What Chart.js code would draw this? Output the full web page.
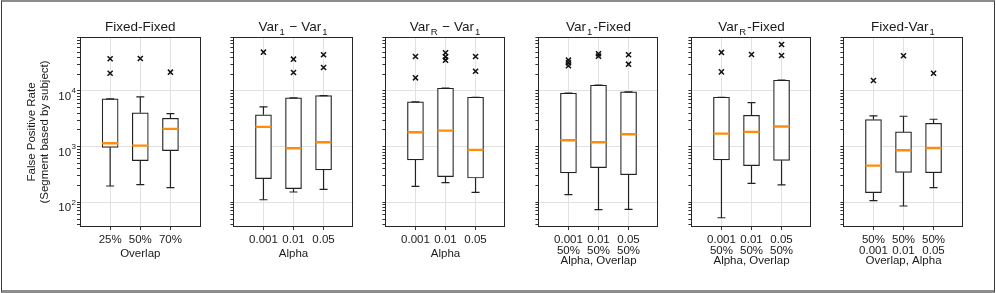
<!DOCTYPE html>
<html>
<head>
<meta charset="utf-8">
<script src="https://cdn.jsdelivr.net/npm/chart.js@4.4.1/dist/chart.umd.min.js"></script>
<style>
  body { margin: 0; background: #fff; }
  #frame {
    position: absolute; left: 1px; top: 0; width: 992px; height: 288px;
    border-top: 2px solid #8c8c8c; border-bottom: 3px solid #8c8c8c;
    border-left: 1px solid #3a3a3a; border-right: 1px solid #3a3a3a;
  }
  canvas { position: absolute; top: 0; }
</style>
</head>
<body>
<div id="frame"></div>
<script>
// panel titles (_{..} = subscript)
const panelTitles = ['Fixed-Fixed', 'Var_{1} \u2212 Var_{1}', 'Var_{R} \u2212 Var_{1}', 'Var_{1}-Fixed', 'Var_{R}-Fixed', 'Fixed-Var_{1}'];
const xTitles = ['Overlap', 'Alpha', 'Alpha', 'Alpha, Overlap', 'Alpha, Overlap', 'Overlap, Alpha'];
const xLabels = [
  ['25%', '50%', '70%'],
  ['0.001', '0.01', '0.05'],
  ['0.001', '0.01', '0.05'],
  [['0.001', '50%'], ['0.01', '50%'], ['0.05', '50%']],
  [['0.001', '50%'], ['0.01', '50%'], ['0.05', '50%']],
  [['50%', '0.001'], ['50%', '0.01'], ['50%', '0.05']]
];
const yTitle = ['False Positive Rate', '(Segment based by subject)'];

// box stats, one row per panel, one value per category
const whiskerLow = [
  [196, 207, 183],
  [111, 153, 171],
  [193, 225, 151],
  [137, 73.6, 74.5],
  [52.8, 219, 205],
  [107, 85.8, 183]
];
const boxLow = [
  [971, 560, 848],
  [266, 176, 381],
  [576, 289, 273],
  [336, 419, 313],
  [576, 455, 567],
  [149, 345, 340]
];
const median = [
  [1146, 1042, 2080],
  [2262, 932, 1195],
  [1807, 1940, 873],
  [1298, 1195, 1664],
  [1713, 1838, 2290],
  [455, 858, 947]
];
const boxHigh = [
  [7210, 4037, 3228],
  [3715, 7520, 8265],
  [6370, 11190, 7700],
  [9100, 12670, 9640],
  [7700, 3656, 15570],
  [3060, 1838, 2625]
];
const whiskerHigh = [
  [7210, 7830, 3925],
  [5176, 7520, 8265],
  [6370, 11190, 7700],
  [9100, 12670, 9640],
  [7700, 6185, 15570],
  [3565, 3508, 3097]
];
const outliers = [
  [[37800, 20800], [38300], [21700]],
  [[49700], [37200, 21400], [44600, 26360]],
  [[41580, 17200], [48400, 41000, 35700], [41580, 22600]],
  [[35700, 32000, 28300], [46500, 42100], [44600, 30200]],
  [[49100, 22000], [45100], [68300, 43300]],
  [[15400], [42800], [20800]]
];

const yMin = 36, yMax = 93000;
const yTicks = [];
for (let e = 1; e <= 4; e++) for (let m = 1; m <= 9; m++) {
  const v = m * Math.pow(10, e);
  if (v >= yMin && v <= yMax) yTicks.push(v);
}

const panelLeft = [80, 233, 385, 538, 691, 843];
const plotW = 127, plotTop = 37, plotBottom = 227, H = 293;
const ink = '#1a1a1a', edge = '#222', orange = '#ff8c0a', gridCol = '#e2e2e2';
const fam = '"Liberation Sans", Arial, sans-serif';

Chart.defaults.font.family = fam;
Chart.defaults.color = ink;

const isDecade = v => Math.abs(Math.log10(v) - Math.round(Math.log10(v))) < 1e-9;

const panelDecor = {
  id: 'panelDecor',
  afterDraw(chart, args, opts) {
    const { ctx, chartArea: a } = chart;
    ctx.save();
    ctx.strokeStyle = '#262626';
    ctx.lineWidth = 1;
    ctx.strokeRect(Math.round(a.left) + 0.5, Math.round(a.top) + 0.5,
      Math.round(a.right - a.left) - 1, Math.round(a.bottom - a.top) - 1);

    // title with subscripts
    const parts = opts.title.split(/(_\{[^}]*\})/).filter(Boolean)
      .map(p => p.startsWith('_{') ? { t: p.slice(2, -1), sub: true } : { t: p, sub: false });
    const mainFont = '13.5px ' + fam, subFont = '9.5px ' + fam;
    let total = 0;
    parts.forEach(p => {
      ctx.font = p.sub ? subFont : mainFont;
      p.w = ctx.measureText(p.t).width + (p.sub ? 2 : 0);
      total += p.w;
    });
    let x = (a.left + a.right) / 2 - total / 2;
    const base = 31;
    ctx.fillStyle = ink;
    ctx.textBaseline = 'alphabetic';
    ctx.textAlign = 'left';
    parts.forEach(p => {
      ctx.font = p.sub ? subFont : mainFont;
      ctx.fillText(p.t, p.sub ? x + 1 : x, p.sub ? base + 3.5 : base);
      x += p.w;
    });

    // power-of-ten tick labels on the first panel
    if (opts.yLabels) {
      const ys = chart.scales.y;
      yTicks.filter(isDecade).forEach(v => {
        const py = ys.getPixelForValue(v);
        const ex = String(Math.round(Math.log10(v)));
        ctx.font = '8px ' + fam;
        const ew = ctx.measureText(ex).width;
        ctx.textAlign = 'right';
        ctx.fillText(ex, 76, py + 2.5);
        ctx.font = '11.5px ' + fam;
        ctx.fillText('10', 76 - ew - 0.5, py + 9);
      });
    }
    ctx.restore();
  }
};

function buildDatasets(p) {
  const xs = [1, 2, 3];
  const whisk = [], caps = [], outs = [];
  xs.forEach((x, k) => {
    whisk.push({ x, y: whiskerLow[p][k] }, { x, y: boxLow[p][k] }, { x, y: null },
               { x, y: boxHigh[p][k] }, { x, y: whiskerHigh[p][k] }, { x, y: null });
    caps.push({ x, y: whiskerLow[p][k] }, { x, y: whiskerHigh[p][k] });
    outliers[p][k].forEach(v => outs.push({ x, y: v }));
  });
  return [
    { type: 'scatter', data: xs.map((x, k) => ({ x, y: median[p][k] })), pointStyle: 'line',
      pointRadius: 8, borderColor: orange, borderWidth: 2.4, order: 0 },
    { type: 'scatter', data: outs, pointStyle: 'crossRot', pointRadius: 3.6,
      borderColor: '#111', borderWidth: 1.5, order: 0 },
    { type: 'scatter', data: caps, pointStyle: 'line', pointRadius: 4,
      borderColor: edge, borderWidth: 1.2, order: 1 },
    { type: 'bar', data: xs.map((x, k) => ({ x, y: [boxLow[p][k], boxHigh[p][k]] })),
      backgroundColor: '#fff', borderColor: edge, borderWidth: 1.2, borderSkipped: false,
      barThickness: 16, order: 2 },
    { type: 'line', data: whisk, borderColor: edge, borderWidth: 1.2, pointRadius: 0,
      spanGaps: false, order: 3 }
  ];
}

panelLeft.forEach((L, p) => {
  const axisW = p === 0 ? 80 : 10;
  const cv = document.createElement('canvas');
  cv.width = axisW + plotW + 4;
  cv.height = H;
  cv.style.left = (L - axisW) + 'px';
  document.body.appendChild(cv);
  const multi = Array.isArray(xLabels[p][0]);

  new Chart(cv, {
    type: 'bar',
    data: { datasets: buildDatasets(p) },
    plugins: [panelDecor],
    options: {
      responsive: false,
      animation: false,
      events: [],
      layout: { padding: { top: plotTop, right: 4, left: 0, bottom: 0 } },
      plugins: {
        legend: { display: false },
        tooltip: { enabled: false },
        panelDecor: { title: panelTitles[p], yLabels: p === 0 }
      },
      scales: {
        x: {
          type: 'linear', min: 0, max: 4, offset: false,
          afterBuildTicks: s => { s.ticks = [1, 2, 3].map(v => ({ value: v })); },
          afterFit: s => { s.height = H - plotBottom; },
          ticks: {
            callback: v => xLabels[p][v - 1],
            font: { size: 11.5, lineHeight: 0.95 }, color: ink,
            padding: 4.5, maxRotation: 0, autoSkip: false
          },
          grid: { color: gridCol, tickColor: '#333', tickLength: 3, offset: false },
          border: { display: false },
          title: {
            display: true, text: xTitles[p], color: ink,
            font: { size: 11.5, lineHeight: 1.2 },
            padding: { top: 0, bottom: multi ? 25.4 : 32.1 }
          }
        },
        y: {
          type: 'logarithmic', min: yMin, max: yMax,
          afterBuildTicks: s => { s.ticks = yTicks.map(v => ({ value: v, major: isDecade(v) })); },
          afterFit: s => { s.width = axisW; },
          ticks: { callback: () => '', autoSkip: false },
          grid: {
            color: c => (c.tick && isDecade(c.tick.value)) ? gridCol : 'rgba(0,0,0,0)',
            tickColor: '#333', tickLength: 3
          },
          border: { display: false },
          title: {
            display: p === 0, text: yTitle, color: ink,
            font: { size: 11.5, lineHeight: 1.09 },
            padding: { top: 25.7, bottom: 0 }
          }
        }
      }
    }
  });
});
</script>
</body>
</html>
